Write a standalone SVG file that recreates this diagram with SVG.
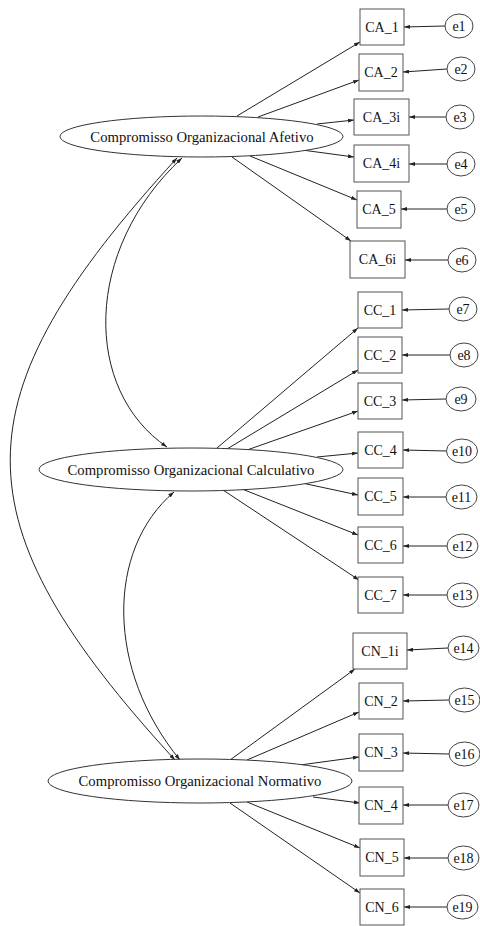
<svg xmlns="http://www.w3.org/2000/svg" width="480" height="926" viewBox="0 0 480 926">
<style>
  .bg{fill:#ffffff}
  .box{fill:#ffffff;stroke:#555555;stroke-width:1}
  .lat{fill:#ffffff;stroke:#333333;stroke-width:1}
  .err{fill:#ffffff;stroke:#444444;stroke-width:1}
  .t{font-family:"Liberation Serif","Times New Roman",serif;font-size:14px;fill:#111111;text-anchor:middle}
  .tl{font-size:14.7px}
  .e{stroke:#222222;stroke-width:1;fill:none;marker-end:url(#ah)}
  .c{stroke:#222222;stroke-width:1;fill:none;marker-end:url(#ah);marker-start:url(#ah)}
</style>
<defs>
  <marker id="ah" viewBox="0 0 6 4" refX="6" refY="2" markerWidth="6" markerHeight="4" markerUnits="userSpaceOnUse" orient="auto-start-reverse">
    <path d="M0,0 L6,2 L0,4 z" fill="#222222"/>
  </marker>
</defs>
<rect class="bg" x="0" y="0" width="480" height="926"/>

<g id="connectors">
  <!-- Afetivo loadings -->
  <line class="e" x1="237" y1="116" x2="360" y2="42"/>
  <line class="e" x1="258" y1="117" x2="359" y2="80"/>
  <line class="e" x1="317" y1="124" x2="354" y2="120"/>
  <line class="e" x1="302" y1="150" x2="354" y2="157"/>
  <line class="e" x1="250" y1="156" x2="357" y2="200"/>
  <line class="e" x1="232" y1="157" x2="351" y2="241"/>
  <!-- Calculativo loadings -->
  <line class="e" x1="217" y1="448" x2="358" y2="328"/>
  <line class="e" x1="227" y1="449" x2="358" y2="370"/>
  <line class="e" x1="247" y1="450" x2="358" y2="411"/>
  <line class="e" x1="317" y1="457" x2="358" y2="453"/>
  <line class="e" x1="302" y1="483" x2="358" y2="495"/>
  <line class="e" x1="242" y1="489" x2="358" y2="535"/>
  <line class="e" x1="223" y1="490" x2="359" y2="580"/>
  <!-- Normativo loadings -->
  <line class="e" x1="230" y1="760" x2="355" y2="669"/>
  <line class="e" x1="247" y1="760" x2="359" y2="712"/>
  <line class="e" x1="300" y1="765" x2="359" y2="757"/>
  <line class="e" x1="313" y1="797" x2="360" y2="803"/>
  <line class="e" x1="247" y1="802" x2="360" y2="848"/>
  <line class="e" x1="230" y1="803" x2="360" y2="893"/>
  <!-- error terms -->
  <line class="e" x1="445" y1="26" x2="404" y2="27"/>
  <line class="e" x1="447" y1="69" x2="403" y2="72"/>
  <line class="e" x1="446" y1="117" x2="409" y2="117"/>
  <line class="e" x1="447" y1="164" x2="409" y2="164"/>
  <line class="e" x1="447" y1="209" x2="401" y2="209"/>
  <line class="e" x1="448" y1="260" x2="405" y2="260"/>
  <line class="e" x1="449" y1="309" x2="402" y2="310"/>
  <line class="e" x1="450" y1="355" x2="402" y2="355"/>
  <line class="e" x1="446" y1="399" x2="402" y2="400"/>
  <line class="e" x1="447" y1="451" x2="403" y2="450"/>
  <line class="e" x1="446" y1="497" x2="403" y2="497"/>
  <line class="e" x1="447" y1="546" x2="403" y2="546"/>
  <line class="e" x1="447" y1="595" x2="403" y2="595"/>
  <line class="e" x1="448" y1="648" x2="407" y2="650"/>
  <line class="e" x1="449" y1="700" x2="403" y2="701"/>
  <line class="e" x1="449" y1="754" x2="403" y2="753"/>
  <line class="e" x1="448" y1="805" x2="403" y2="805"/>
  <line class="e" x1="448" y1="858" x2="404" y2="858"/>
  <line class="e" x1="447" y1="907" x2="404" y2="907"/>
  <!-- covariances -->
  <path class="c" d="M182,158 C83,250 83,390 167,447"/>
  <path class="c" d="M177,158 C-45,400 -45,520 175,760"/>
  <path class="c" d="M174,492 C106,550 106,670 180,760"/>
</g>

<g id="Afetivo"><ellipse class="lat" cx="201.5" cy="136.5" rx="141.5" ry="20.5"/><text class="t tl" x="202" y="142">Compromisso Organizacional Afetivo</text></g>
<g id="Calculativo"><ellipse class="lat" cx="191" cy="469.5" rx="152" ry="21.5"/><text class="t tl" x="191" y="475">Compromisso Organizacional Calculativo</text></g>
<g id="Normativo"><ellipse class="lat" cx="200" cy="781" rx="152" ry="22"/><text class="t tl" x="200" y="786">Compromisso Organizacional Normativo</text></g>

<g id="CA_1"><rect class="box" x="360" y="9" width="44" height="36"/><text class="t" x="382" y="32">CA_1</text></g>
<g id="CA_2"><rect class="box" x="359" y="54" width="44" height="37"/><text class="t" x="381" y="77">CA_2</text></g>
<g id="CA_3i"><rect class="box" x="354" y="99" width="55" height="36"/><text class="t" x="381.5" y="122">CA_3i</text></g>
<g id="CA_4i"><rect class="box" x="354" y="145" width="55" height="37"/><text class="t" x="381.5" y="168">CA_4i</text></g>
<g id="CA_5"><rect class="box" x="357" y="191" width="44" height="37"/><text class="t" x="379" y="214">CA_5</text></g>
<g id="CA_6i"><rect class="box" x="350" y="241" width="55" height="37"/><text class="t" x="377.5" y="264">CA_6i</text></g>
<g id="CC_1"><rect class="box" x="358" y="292" width="44" height="36"/><text class="t" x="380" y="315">CC_1</text></g>
<g id="CC_2"><rect class="box" x="358" y="337" width="44" height="36"/><text class="t" x="380" y="360">CC_2</text></g>
<g id="CC_3"><rect class="box" x="358" y="383" width="44" height="36"/><text class="t" x="380" y="406">CC_3</text></g>
<g id="CC_4"><rect class="box" x="358" y="432" width="45" height="36"/><text class="t" x="380.5" y="455">CC_4</text></g>
<g id="CC_5"><rect class="box" x="358" y="478" width="45" height="37"/><text class="t" x="380.5" y="501">CC_5</text></g>
<g id="CC_6"><rect class="box" x="358" y="527" width="45" height="36"/><text class="t" x="380.5" y="550">CC_6</text></g>
<g id="CC_7"><rect class="box" x="358" y="577" width="45" height="36"/><text class="t" x="380.5" y="600">CC_7</text></g>
<g id="CN_1i"><rect class="box" x="353" y="633" width="54" height="36"/><text class="t" x="380" y="656">CN_1i</text></g>
<g id="CN_2"><rect class="box" x="359" y="683" width="44" height="36"/><text class="t" x="381" y="706">CN_2</text></g>
<g id="CN_3"><rect class="box" x="359" y="734" width="44" height="37"/><text class="t" x="381" y="757">CN_3</text></g>
<g id="CN_4"><rect class="box" x="359" y="787" width="44" height="37"/><text class="t" x="381" y="810">CN_4</text></g>
<g id="CN_5"><rect class="box" x="360" y="839" width="44" height="37"/><text class="t" x="382" y="862">CN_5</text></g>
<g id="CN_6"><rect class="box" x="360" y="889" width="44" height="36"/><text class="t" x="382" y="912">CN_6</text></g>

<g id="e1"><ellipse class="err" cx="459" cy="26" rx="14" ry="12"/><text class="t" x="459" y="31">e1</text></g>
<g id="e2"><ellipse class="err" cx="461" cy="69" rx="14" ry="12"/><text class="t" x="461" y="74">e2</text></g>
<g id="e3"><ellipse class="err" cx="460" cy="117" rx="14" ry="12"/><text class="t" x="460" y="122">e3</text></g>
<g id="e4"><ellipse class="err" cx="461" cy="164" rx="14" ry="12"/><text class="t" x="461" y="169">e4</text></g>
<g id="e5"><ellipse class="err" cx="461" cy="209" rx="14" ry="12"/><text class="t" x="461" y="214">e5</text></g>
<g id="e6"><ellipse class="err" cx="462" cy="260" rx="14" ry="12"/><text class="t" x="462" y="265">e6</text></g>
<g id="e7"><ellipse class="err" cx="463" cy="309" rx="14" ry="12"/><text class="t" x="463" y="314">e7</text></g>
<g id="e8"><ellipse class="err" cx="464" cy="355" rx="14" ry="12"/><text class="t" x="464" y="360">e8</text></g>
<g id="e9"><ellipse class="err" cx="461" cy="399" rx="15" ry="12"/><text class="t" x="461" y="404">e9</text></g>
<g id="e10"><ellipse class="err" cx="462" cy="451" rx="15.5" ry="12"/><text class="t" x="462" y="456">e10</text></g>
<g id="e11"><ellipse class="err" cx="461.5" cy="497" rx="15.5" ry="12"/><text class="t" x="461.5" y="502">e11</text></g>
<g id="e12"><ellipse class="err" cx="462.5" cy="546" rx="15.5" ry="12"/><text class="t" x="462.5" y="551">e12</text></g>
<g id="e13"><ellipse class="err" cx="462.5" cy="595" rx="15.5" ry="12"/><text class="t" x="462.5" y="600">e13</text></g>
<g id="e14"><ellipse class="err" cx="463.5" cy="648" rx="15.5" ry="12"/><text class="t" x="463.5" y="653">e14</text></g>
<g id="e15"><ellipse class="err" cx="464.5" cy="700" rx="15.5" ry="12"/><text class="t" x="464.5" y="705">e15</text></g>
<g id="e16"><ellipse class="err" cx="464.5" cy="754" rx="15.5" ry="12"/><text class="t" x="464.5" y="759">e16</text></g>
<g id="e17"><ellipse class="err" cx="463.5" cy="805" rx="15.5" ry="12"/><text class="t" x="463.5" y="810">e17</text></g>
<g id="e18"><ellipse class="err" cx="463.5" cy="858" rx="15.5" ry="12"/><text class="t" x="463.5" y="863">e18</text></g>
<g id="e19"><ellipse class="err" cx="462.5" cy="907" rx="15.5" ry="12"/><text class="t" x="462.5" y="912">e19</text></g>
</svg>
